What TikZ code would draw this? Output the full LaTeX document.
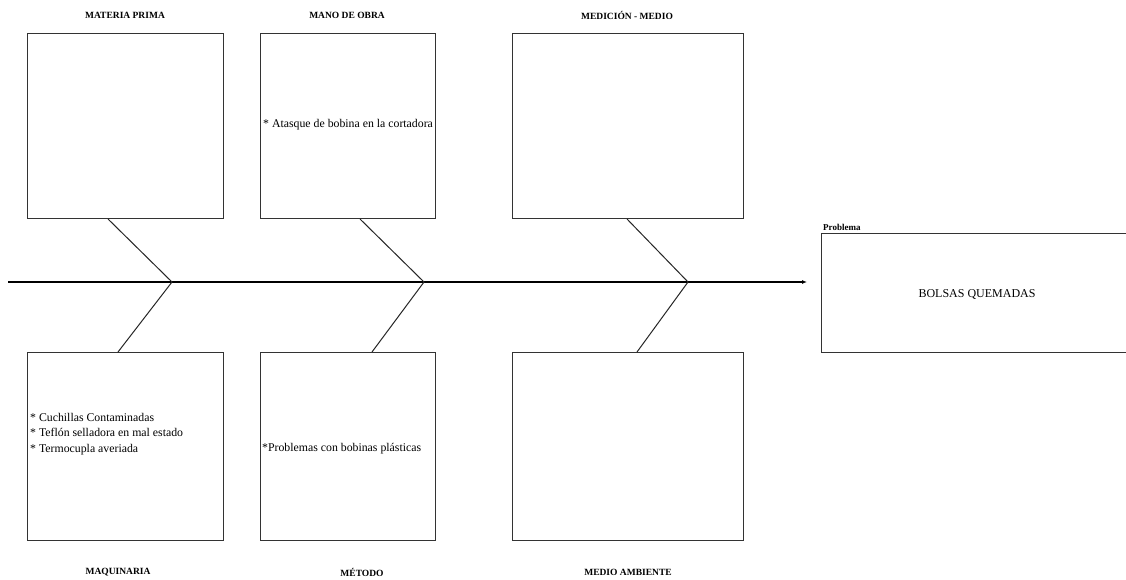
\documentclass[tikz,border=0pt]{standalone}
\usepackage{fontspec}
\setmainfont{Liberation Serif}
\usetikzlibrary{arrows.meta}
\begin{document}
\begin{tikzpicture}[x=1pt,y=-1pt,
  causebox/.style={draw=black!80,line width=0.9pt},
  head/.style={font=\bfseries\fontsize{9.5}{11}\selectfont,inner sep=0pt},
  item/.style={font=\fontsize{11.8}{15.5}\selectfont,inner sep=0pt,anchor=north west,align=left},
  bone/.style={draw=black!85,line width=1pt},
  spine/.style={draw=black,line width=1.3pt,-{Latex[length=5pt,width=4pt]}}]
\useasboundingbox (0,0) rectangle (1126,580);
\fill[white] (0,0) rectangle (1126,580);

% cause boxes
\draw[causebox] (27,33) rectangle (223,218);
\draw[causebox] (260,33) rectangle (435,218);
\draw[causebox] (512,33) rectangle (743,218);
\draw[causebox] (27,352) rectangle (223,540);
\draw[causebox] (260,352) rectangle (435,540);
\draw[causebox] (512,352) rectangle (743,540);

% effect box
\node[draw=black!80,line width=0.9pt,minimum width=320pt,minimum height=119pt,anchor=north west,inner sep=0pt] (prob) at (821,233) {};
\node[anchor=south west,inner sep=0pt,font=\bfseries\fontsize{9}{10}\selectfont] (problabel) at (823,231) {Problema};
\node[font=\fontsize{12}{14}\selectfont,inner sep=0pt] (effect) at (977,294) {BOLSAS QUEMADAS};

% category headings
\node[head] (h1) at (125,15) {MATERIA PRIMA};
\node[head] (h2) at (347,15) {MANO DE OBRA};
\node[head] (h3) at (627,15) {MEDICIÓN - MEDIO};
\node[head] (h4) at (118,572) {MAQUINARIA};
\node[head] (h5) at (362,572) {MÉTODO};
\node[head] (h6) at (628,572) {MEDIO AMBIENTE};

% joints on the spine
\coordinate (s0) at (8,282);
\coordinate (j1) at (172,282);
\coordinate (j2) at (424,282);
\coordinate (j3) at (688,282);
\coordinate (tip) at (807,282);

% bone ends at the boxes
\coordinate (u1) at (108,219);
\coordinate (u2) at (360,219);
\coordinate (u3) at (627,219);
\coordinate (d1) at (118,352);
\coordinate (d2) at (372,352);
\coordinate (d3) at (637,352);

\draw[spine] (s0) -- (tip);
\draw[bone] (u1) -- (j1) -- (d1);
\draw[bone] (u2) -- (j2) -- (d2);
\draw[bone] (u3) -- (j3) -- (d3);

% causes
\node[item] (c1) at (263,119) {* Atasque de bobina en la cortadora};
\node[item] (c2) at (30,413) {* Cuchillas Contaminadas\\* Teflón selladora en mal estado\\* Termocupla averiada};
\node[item] (c3) at (262,443) {*Problemas con bobinas plásticas};
\end{tikzpicture}
\end{document}
